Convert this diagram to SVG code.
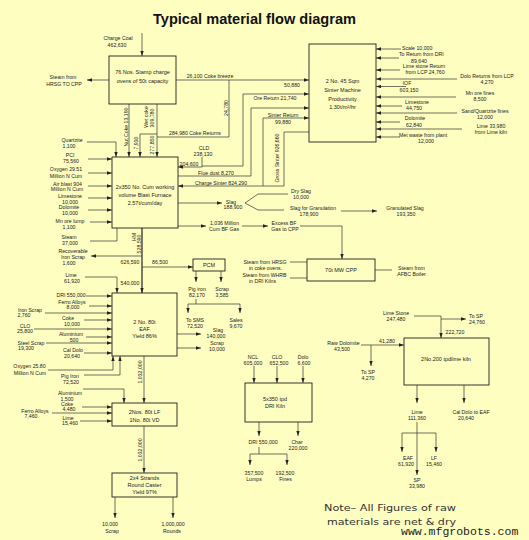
<svg xmlns="http://www.w3.org/2000/svg" width="529" height="540" viewBox="0 0 529 540">
<style>
text{font-family:"Liberation Sans",Arial,sans-serif;font-size:5.2px;fill:#222;text-anchor:middle}
.s{text-anchor:start}
.bx{font-size:5.5px}
rect.n{fill:none;stroke:#222;stroke-width:0.9}
#connectors path{fill:none;stroke:#333;stroke-width:0.7}
#connectors path.a{marker-end:url(#ar)}
#connectors path.k{stroke-width:1.3}
</style>
<defs>
<marker id="ar" viewBox="0 0 6 4" refX="6" refY="2" markerWidth="5" markerHeight="3.4" markerUnits="userSpaceOnUse" orient="auto"><path d="M0,0 L6,2 L0,4 z" fill="#222"/></marker>
</defs>
<rect width="529" height="540" fill="#fefec0"/>
<text x="254.5" y="24" style="font-size:15px;font-weight:bold;fill:#111" textLength="203" lengthAdjust="spacingAndGlyphs">Typical material flow diagram</text>

<g id="connectors">
<path class="a" d="M142,33 V56"/>
<path class="a" d="M109,80 H87"/>
<path class="a" d="M176,80 H309"/>
<path d="M229,137 V80"/>
<path class="a" d="M157,104 V157"/>
<path class="a" d="M157,134 H140 V157"/>
<path d="M157,137 H229"/>
<path class="a" d="M129,104 V157"/>
<path class="a" d="M87,142 H116 V157"/>
<path class="a" d="M88,159 H112"/>
<path class="a" d="M88,173 H112"/>
<path class="a" d="M88,186 H112"/>
<path class="a" d="M88,198 H112"/>
<path class="a" d="M88,210 H112"/>
<path class="a" d="M90,222 H112"/>
<path d="M90,241 H117 V228"/>
<path class="a" d="M243,94 H309"/>
<path d="M243,94 V166 H202"/>
<path class="a" d="M202,157 V167 H178"/>
<path class="a" d="M178,176 H251 V108 H309"/>
<path class="a" d="M263,186 V118 H309"/>
<path class="a" d="M309,132 H284 V186 H178"/>
<path class="a" d="M401,49 H376"/>
<path class="a" d="M399,58 H376"/>
<path class="a" d="M400,70 H376"/>
<path class="a" d="M457,79 H376"/>
<path class="a" d="M406,86.5 H376"/>
<path class="a" d="M456,97 H376"/>
<path class="a" d="M402,106 H376"/>
<path class="a" d="M457,113 H376"/>
<path class="a" d="M400,122 H376"/>
<path class="a" d="M462,129 H376"/>
<path class="a" d="M400,137 H376"/>
<path class="a" d="M178,203 H222"/>
<path d="M245,203 L258,194 H288"/>
<path d="M245,203 L258,210 H284"/>
<path class="a" d="M341,211 H377"/>
<path class="a" d="M178,226 H206"/>
<path class="a" d="M242,226 H268"/>
<path class="a" d="M300,226 H342 V259"/>
<path d="M290,262 H307"/>
<path d="M290,278 H307"/>
<path d="M375,270 H392"/>
<path class="a k" d="M142,228 V293"/>
<path class="a" d="M142,256 H91"/>
<path class="a" d="M142,267 H193"/>
<path class="a" d="M85,277 H117 V293"/>
<path class="a" d="M86,296 H112"/>
<path class="a" d="M89,306 H112"/>
<path class="a" d="M45,313 H112"/>
<path class="a" d="M84,320 H112"/>
<path class="a" d="M34,329 H112"/>
<path class="a" d="M86,337 H112"/>
<path class="a" d="M46,343 H112"/>
<path class="a" d="M84,353 H112"/>
<path class="a" d="M48,370 H113 V356"/>
<path class="a" d="M84,375 H120 V356"/>
<path class="a" d="M177,334 H201"/>
<path class="a" d="M177,348 H201"/>
<path class="a" d="M144,356 V403"/>
<path class="a" d="M196,271 V282"/>
<path class="a" d="M221,271 V282"/>
<path d="M196,299 V304 M188,304 H240"/>
<path class="a" d="M188,304 V313"/>
<path class="a" d="M240,304 V313"/>
<path class="a" d="M83,389 H124 V403"/>
<path class="a" d="M82,407 H112"/>
<path class="a" d="M52,413 H112"/>
<path class="a" d="M80,421 H112"/>
<path class="a" d="M144,426 V473"/>
<path class="a" d="M115,497 V518"/>
<path class="a" d="M173,497 V518"/>
<path class="a" d="M254,366 V383"/>
<path class="a" d="M277,366 V383"/>
<path class="a" d="M303,366 V383"/>
<path class="a" d="M259,422 V436"/>
<path class="a" d="M298,422 V436"/>
<path d="M259,447 V454 M250,454 H287"/>
<path class="a" d="M250,454 V465"/>
<path class="a" d="M287,454 V465"/>
<path class="a" d="M414,316 H441 V338"/>
<path class="a" d="M441,319 H466"/>
<path class="a" d="M361,345 H404"/>
<path class="a" d="M371,345 V366"/>
<path class="a" d="M417,385 V403"/>
<path class="a" d="M464,385 V403"/>
<path class="a" d="M417,422 V475"/>
<path d="M402,433 H436"/>
<path class="a" d="M402,433 V452"/>
<path class="a" d="M436,433 V452"/>
</g>

<g id="coke-ovens"><rect class="n" x="109" y="56" width="67" height="48"/><text class="bx" x="142.5" y="74">76 Nos. Stamp charge</text><text class="bx" x="142.5" y="83">ovens of 50t capacity</text></g>
<g id="sinter-machine"><rect class="n" x="309" y="44" width="67" height="98"/><text class="bx" x="342.5" y="83">2 No. 45 Sqm</text><text class="bx" x="342.5" y="92">Sinter Machine</text><text class="bx" x="342.5" y="101">Productivity</text><text class="bx" x="342.5" y="109">1.30t/m²/hr</text></g>
<g id="blast-furnace"><rect class="n" x="112" y="157" width="66" height="71"/><text class="bx" x="145" y="189">2x350 No. Cum working</text><text class="bx" x="145" y="197">volume Blast Furnace</text><text class="bx" x="145" y="205">2.57t/cum/day</text></g>
<g id="pcm"><rect class="n" x="193" y="259" width="32" height="12"/><text class="bx" x="209" y="267">PCM</text></g>
<g id="cpp"><rect class="n" x="307" y="259" width="68" height="22"/><text class="bx" x="341" y="272">70t MW CPP</text></g>
<g id="eaf"><rect class="n" x="112" y="293" width="65" height="63"/><text class="bx" x="144.5" y="324">2 No. 80t</text><text class="bx" x="144.5" y="331">EAF</text><text class="bx" x="144.5" y="338">Yield 86%</text></g>
<g id="lf"><rect class="n" x="112" y="403" width="65" height="23"/><text class="bx" x="144.5" y="414">2Nos. 80t LF</text><text class="bx" x="144.5" y="422">1No. 80t VD</text></g>
<g id="caster"><rect class="n" x="112" y="473" width="65" height="24"/><text class="bx" x="144.5" y="480">2x4 Strands</text><text class="bx" x="144.5" y="487">Round Caster</text><text class="bx" x="144.5" y="494">Yield 97%</text></g>
<g id="dri-kiln"><rect class="n" x="245" y="383" width="67" height="39"/><text class="bx" x="275" y="401">5x350 tpd</text><text class="bx" x="275" y="408">DRI Kiln</text></g>
<g id="lime-kiln"><rect class="n" x="404" y="338" width="85" height="47"/><text class="bx" x="446" y="361">2No.200 tpdlime kiln</text></g>

<g id="labels">
<text x="118" y="40">Charge Coal</text><text x="117" y="47">462,630</text>
<text x="63" y="79">Steam from</text><text x="64" y="86">HRSG TO CPP</text>
<text x="210" y="78">26,100 Coke breeze</text>
<text x="292" y="87">50,880</text>
<text transform="translate(226,108) rotate(-90)" y="1.8">24,780</text>
<text transform="translate(126,127) rotate(-90)" y="1.8">Nut Coke 13,190</text>
<text transform="translate(146,117) rotate(-90)" y="1.8">Wet coke</text>
<text transform="translate(152,118) rotate(-90)" y="1.8">309,780</text>
<text transform="translate(136,143) rotate(-90)" y="1.8">7,930</text>
<text transform="translate(152,145) rotate(-90)" y="1.8">277,850</text>
<text x="195" y="134.5">284,980 Coke Returns</text>
<text x="275" y="100">Ore Return 21,740</text>
<text x="283" y="117">Sinter Return</text><text x="283" y="124">99,880</text>
<text transform="translate(277,158) rotate(-90)" y="1.8">Gross Sinter 926,660</text>
<text x="204" y="150">CLD</text><text x="203" y="155.5">238,130</text>
<text x="189" y="165.5">204,600</text>
<text x="216" y="174.5">Flue dust 8,270</text>
<text x="221" y="184.5">Charge Sinter 824,290</text>
<text class="s" x="402" y="50">Scale 10,000</text>
<text class="s" x="399" y="56">To Return from DRI</text><text x="419" y="62.5">89,640</text>
<text x="424" y="68">Lime stone Return</text><text x="425" y="74">from LCP 24,760</text>
<text x="487" y="77.5">Dolo Returns from LCP</text><text x="487" y="83.5">4,270</text>
<text x="407" y="85">IOF</text><text x="409" y="92">603,150</text>
<text x="480" y="95">Mn ore fines</text><text x="480" y="101">8,500</text>
<text x="417" y="103.5">Limestone</text><text x="414" y="110">44,750</text>
<text x="485" y="112.5">Sand/Quartzite fines</text><text x="485" y="118.5">12,000</text>
<text x="415" y="120">Dolomite</text><text x="414" y="126.5">62,840</text>
<text x="491" y="127.5">Lime 33,980</text><text x="491" y="133.5">from Lime kiln</text>
<text x="423" y="137">Met waste from plant</text><text x="426" y="143">12,000</text>
<text x="72" y="142">Quartzite</text><text x="69" y="148">1,100</text>
<text x="70" y="157">PCI</text><text x="71" y="163">75,560</text>
<text x="66" y="171">Oxygen 29.51</text><text x="66" y="178">Million N Cum</text>
<text x="67.5" y="185.5">Air blast 904</text><text x="67" y="191">Million N Cum</text>
<text x="70" y="198">Limestone</text><text x="70" y="204">10,000</text>
<text x="69" y="209">Dolomite</text><text x="70" y="215">10,000</text>
<text x="70" y="223">Mn ore lump</text><text x="69" y="228.5">1,100</text>
<text x="69" y="239">Steam</text><text x="70" y="244.5">37,000</text>
<text x="73" y="252.5">Recoverable</text><text x="73" y="258.5">Iron Scrap</text><text x="69" y="265">1,600</text>
<text transform="translate(134.5,237) rotate(-90)" y="1.8">HM</text>
<text transform="translate(139,244) rotate(-90)" y="1.8">528,590</text>
<text x="130" y="264">626,590</text>
<text x="160" y="264">86,500</text>
<text x="130" y="285">540,000</text>
<text x="71" y="276.5">Lime</text><text x="72" y="282.5">61,920</text>
<text x="231" y="203.5">Slag</text><text x="233" y="209">188,900</text>
<text x="301" y="192.5">Dry Slag</text><text x="301" y="198.5">10,000</text>
<text x="313" y="210">Slag for Granulation</text><text x="309" y="216">178,900</text>
<text x="405" y="210">Granulated Slag</text><text x="406" y="215.5">193,350</text>
<text x="224.5" y="224.5">1,036 Million</text><text x="224" y="230.5">Cum BF Gas</text>
<text x="284" y="224.5">Excess BF</text><text x="285" y="230.5">Gas to CPP</text>
<text x="265" y="263.5">Steam from HRSG</text><text x="265.5" y="269.5">in coke ovens.</text>
<text x="264.5" y="276.5">Steam from WHRB</text><text x="262.5" y="282.5">in DRI Kilns</text>
<text x="411.5" y="269.5">Steam from</text><text x="411.5" y="275.5">AFBC Boiler</text>
<text x="197" y="291">Pig iron</text><text x="197" y="297">82,170</text>
<text x="222" y="291">Scrap</text><text x="222" y="297">3,585</text>
<text x="195" y="322">To SMS</text><text x="195" y="328">72,520</text>
<text x="236" y="322">Sales</text><text x="236" y="328">9,670</text>
<text x="218" y="331.5">Slag</text><text x="216" y="337.5">140,000</text>
<text x="217" y="345">Scrap</text><text x="217" y="351">10,000</text>
<text x="71" y="297">DRI 550,000</text>
<text x="72" y="303.5">Ferro Alloys</text><text x="73" y="309">8,000</text>
<text x="30" y="311.5">Iron Scrap</text><text x="24" y="317">2,760</text>
<text x="68" y="319.5">Coke</text><text x="72" y="325.5">10,000</text>
<text x="25" y="327.5">CLO</text><text x="25" y="333">25,800</text>
<text x="71" y="336">Aluminium</text><text x="74" y="341.5">500</text>
<text x="31" y="344.5">Steel Scrap</text><text x="26" y="350">19,300</text>
<text x="73" y="352">Cal Dolo</text><text x="72" y="358">20,640</text>
<text x="29.5" y="368">Oxygen 25.80</text><text x="30" y="375">Million N Cum</text>
<text x="70" y="378">Pig Iron</text><text x="71" y="384">72,520</text>
<text transform="translate(140,372) rotate(-90)" y="1.8">1,032,000</text>
<text x="70" y="395">Aluminium</text><text x="67" y="400.5">1,500</text>
<text x="67" y="405.5">Coke</text><text x="69" y="411">4,480</text>
<text x="35" y="412.5">Ferro Alloys</text><text x="31" y="418">7,460</text>
<text x="68" y="419.5">Lime</text><text x="70" y="425">15,460</text>
<text transform="translate(140,450) rotate(-90)" y="1.8">1,032,000</text>
<text x="110" y="525.5">10,000</text><text x="112" y="532.5">Scrap</text>
<text x="173" y="525.5">1,000,000</text><text x="172" y="532.5">Rounds</text>
<text x="253" y="358.5">NCL</text><text x="253" y="364.5">605,000</text>
<text x="277" y="358.5">CLO</text><text x="279" y="364.5">652,500</text>
<text x="303" y="358.5">Dolo</text><text x="304" y="364.5">6,600</text>
<text x="263" y="444">DRI 550,000</text>
<text x="297" y="444">Char</text><text x="298" y="450">220,000</text>
<text x="254" y="475">357,500</text><text x="254" y="481">Lumps</text>
<text x="285" y="475">192,500</text><text x="285.5" y="481">Fines</text>
<text x="396" y="314.5">Lime Stone</text><text x="396" y="320.5">247,480</text>
<text x="476" y="317.5">To SP</text><text x="477" y="323.5">24,760</text>
<text x="455" y="333.5">222,720</text>
<text x="343.5" y="344.5">Raw Dolomite</text><text x="342" y="350.5">43,500</text>
<text x="387" y="342.5">41,280</text>
<text x="368" y="373.5">To SP</text><text x="368" y="379.5">4,270</text>
<text x="417" y="413.5">Lime</text><text x="417" y="419.5">111,360</text>
<text x="471" y="413.5">Cal Dolo to EAF</text><text x="466" y="419.5">20,640</text>
<text x="408" y="459.5">EAF</text><text x="406" y="465.5">61,920</text>
<text x="434" y="459.5">LF</text><text x="434" y="465.5">15,460</text>
<text x="417" y="481.5">SP</text><text x="417" y="487.5">33,980</text>
</g>
<g id="note">
<text class="s" x="324" y="511" style="font-family:'DejaVu Sans',sans-serif;font-size:9px;fill:#333" textLength="132" lengthAdjust="spacingAndGlyphs">Note– All Figures of raw</text>
<text class="s" x="327" y="525" style="font-family:'DejaVu Sans',sans-serif;font-size:9px;fill:#333" textLength="129" lengthAdjust="spacingAndGlyphs">materials are net &amp; dry</text>
</g>
<text class="s" x="401" y="534.5" style="font-family:'Liberation Mono',monospace;font-size:11.5px;fill:#222">www.mfgrobots.com</text>
</svg>
